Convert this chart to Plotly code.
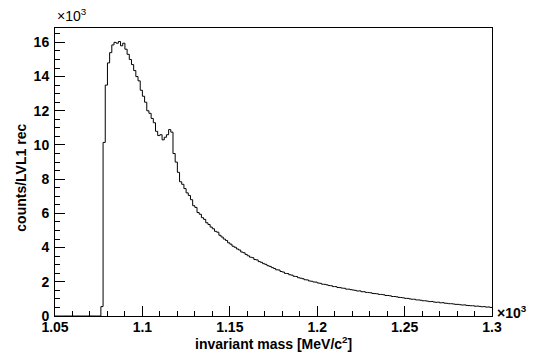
import plotly.graph_objects as go

# Histogram definition (x in units of 10^3 MeV)
x_min = 1.05
x_max = 1.30
n_bins = 200

counts = [0.0] * 21 + [
    0.55, 10.15, 13.5, 14.8, 15.4, 15.85, 16.0, 15.95, 16.05, 15.8,
    15.95, 15.6, 15.3, 15.0, 14.7, 14.35, 14.0, 13.75, 13.2, 12.85,
    12.5, 12.0, 11.85, 11.55, 11.3, 10.8, 10.55, 10.6, 10.3, 10.45,
    10.6, 10.9, 10.75, 9.5, 9.0, 8.4, 7.85, 7.7, 7.45, 7.2,
    7.05, 6.8, 6.45, 6.35, 6.05, 5.95, 5.75, 5.65, 5.45, 5.35,
    5.2, 5.1, 4.95, 4.9, 4.72, 4.62, 4.5, 4.42, 4.28, 4.2,
    4.08, 4.02, 3.92, 3.86, 3.74, 3.7, 3.6, 3.52, 3.44, 3.41,
    3.3, 3.28, 3.18, 3.14, 3.06, 3.02, 2.94, 2.9, 2.83, 2.78,
    2.7, 2.69, 2.6, 2.57, 2.49, 2.48, 2.41, 2.39, 2.32, 2.31,
    2.24, 2.21, 2.18, 2.12, 2.11, 2.05, 2.03, 1.99, 1.98, 1.93,
    1.91, 1.86, 1.85, 1.82, 1.78, 1.77, 1.72, 1.72, 1.67, 1.66,
    1.63, 1.62, 1.57, 1.57, 1.54, 1.52, 1.5, 1.46, 1.47, 1.42,
    1.42, 1.38, 1.37, 1.36, 1.32, 1.31, 1.3, 1.26, 1.26, 1.24,
    1.2, 1.2, 1.18, 1.14, 1.14, 1.12, 1.09, 1.08, 1.06, 1.03,
    1.03, 1.0, 0.98, 0.98, 0.94, 0.94, 0.92, 0.89, 0.89, 0.87,
    0.84, 0.85, 0.82, 0.8, 0.81, 0.77, 0.78, 0.75, 0.74, 0.72,
    0.72, 0.7, 0.68, 0.68, 0.66, 0.64, 0.65, 0.62, 0.61, 0.6,
    0.6, 0.57, 0.58, 0.56, 0.54, 0.55, 0.52, 0.53, 0.5,
]
assert len(counts) == n_bins, len(counts)

x_tick_vals = [1.05, 1.10, 1.15, 1.20, 1.25, 1.30]
x_tick_text = ["1.05", "1.1", "1.15", "1.2", "1.25", "1.3"]
y_tick_vals = [0, 2, 4, 6, 8, 10, 12, 14, 16]
y_tick_text = ["0", "2", "4", "6", "8", "10", "12", "14", "16"]

x_title = "invariant mass [MeV/c<sup>2</sup>]"
y_title = "counts/LVL1 rec"

width = (x_max - x_min) / n_bins
edges = [x_min + i * width for i in range(n_bins + 1)]
xs = edges[:-1] + [edges[-1]]
ys = counts + [counts[-1]]

FONT = "Liberation Sans, Arial, sans-serif"

fig = go.Figure(
    go.Scatter(
        x=xs, y=ys, mode="lines", line=dict(shape="hv", color="black", width=1),
        hoverinfo="skip", showlegend=False,
    )
)

axis_common = dict(
    showline=True, linecolor="black", linewidth=1, mirror=True,
    ticks="inside", ticklen=10, tickwidth=1, tickcolor="black",
    showgrid=False, zeroline=False, tickmode="array",
    tickfont=dict(family=FONT, size=14, color="black", weight="bold"),
)

fig.update_layout(
    width=547, height=354,
    margin=dict(l=55, r=55, t=28, b=38),
    paper_bgcolor="white", plot_bgcolor="white",
    xaxis=dict(
        range=[x_min, x_max], tickvals=x_tick_vals, ticktext=x_tick_text,
        minor=dict(ticks="inside", ticklen=5, tickwidth=1, tickcolor="black",
                   dtick=0.01, tick0=1.05, showgrid=False),
        ticklabelstandoff=-2,
        **axis_common,
    ),
    yaxis=dict(
        range=[0, 16.84], tickvals=y_tick_vals, ticktext=y_tick_text,
        minor=dict(ticks="inside", ticklen=5, tickwidth=1, tickcolor="black",
                   dtick=0.5, tick0=0, showgrid=False),
        ticklabelstandoff=2,
        **axis_common,
    ),
    annotations=[
        dict(text=x_title, xref="paper", yref="paper", x=0.5, y=-0.095,
             xanchor="center", yanchor="middle", showarrow=False,
             font=dict(family=FONT, size=14, color="black", weight="bold")),
        dict(text=y_title, xref="paper", yref="paper", x=-0.078, y=0.48,
             xanchor="center", yanchor="middle", textangle=-90, showarrow=False,
             font=dict(family=FONT, size=14, color="black", weight="bold")),
        dict(text="\u00d710<sup>3</sup>", xref="paper", yref="paper", x=0.0, y=1.045,
             xanchor="left", yanchor="middle", showarrow=False,
             font=dict(family=FONT, size=14, color="black")),
        dict(text="\u00d710<sup>3</sup>", xref="paper", yref="paper", x=1.006, y=0.015,
             xanchor="left", yanchor="middle", showarrow=False,
             font=dict(family=FONT, size=14, color="black", weight="bold")),
    ],
)

fig.write_html("out.html")
